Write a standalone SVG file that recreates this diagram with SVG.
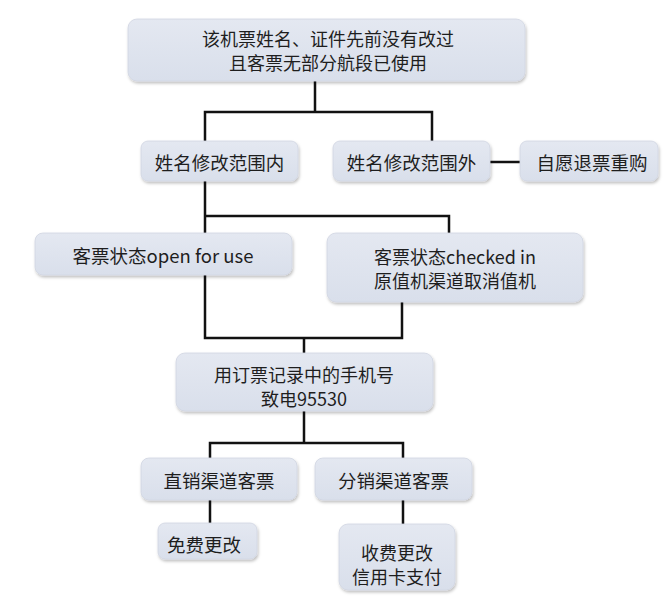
<svg xmlns="http://www.w3.org/2000/svg" width="667" height="615" viewBox="0 0 667 615">
<defs>
<linearGradient id="g" x1="0" y1="0" x2="0" y2="1">
<stop offset="0" stop-color="#e4e8f1"/>
<stop offset="1" stop-color="#d9dfeb"/>
</linearGradient>
<filter id="sh" x="-10%" y="-20%" width="120%" height="150%">
<feDropShadow dx="1" dy="2" stdDeviation="1.5" flood-color="#000" flood-opacity="0.25"/>
</filter>
</defs>
<style>
.box{fill:url(#g);stroke:#d0d6e2;stroke-width:0.8;filter:url(#sh)}
.t{font-family:"Noto Sans CJK SC","Noto Sans",sans-serif;font-size:18.5px;fill:#1e1e1e;text-anchor:middle;dominant-baseline:central}
.m{font-size:18px}
.c{fill:none;stroke:#111;stroke-width:2.5}
</style>
<rect width="667" height="615" fill="#fff"/>
<g id="connectors">
<path class="c" d="M315 81V112M205 142V112H432V142"/>
<path class="c" d="M490 162H520"/>
<path class="c" d="M205 181V233M205 216H449V233"/>
<path class="c" d="M205 275V338H402V302M304 338V353"/>
<path class="c" d="M304 411V443M210 458V443H403V458"/>
<path class="c" d="M210 500V523M403 500V524"/>
</g>
<g id="n1"><rect class="box" x="128" y="19" width="397" height="62" rx="9"/><text class="t m" x="328" y="37.5">该机票姓名、证件先前没有改过</text><text class="t m" x="328" y="61.5">且客票无部分航段已使用</text></g>
<g id="n2"><rect class="box" x="141" y="141" width="157" height="40" rx="7"/><text class="t" x="219.5" y="162">姓名修改范围内</text></g>
<g id="n3"><rect class="box" x="333" y="141" width="157" height="40" rx="7"/><text class="t" x="411.5" y="162">姓名修改范围外</text></g>
<g id="n4"><rect class="box" x="520" y="141" width="138" height="40" rx="7"/><text class="t" x="592" y="162">自愿退票重购</text></g>
<g id="n5"><rect class="box" x="35" y="233" width="257" height="42" rx="8"/><text class="t" x="163" y="255">客票状态open for use</text></g>
<g id="n6"><rect class="box" x="327" y="233" width="256" height="69" rx="9"/><text class="t m" x="455" y="256">客票状态checked in</text><text class="t m" x="455" y="280">原值机渠道取消值机</text></g>
<g id="n7"><rect class="box" x="176" y="353" width="257" height="58" rx="9"/><text class="t m" x="304" y="374">用订票记录中的手机号</text><text class="t m" x="304" y="398">致电95530</text></g>
<g id="n8"><rect class="box" x="141" y="458" width="156" height="42" rx="8"/><text class="t" x="219" y="480">直销渠道客票</text></g>
<g id="n9"><rect class="box" x="315" y="458" width="157" height="42" rx="8"/><text class="t" x="393.5" y="480">分销渠道客票</text></g>
<g id="n10"><rect class="box" x="158" y="523" width="99" height="36" rx="7"/><text class="t" x="204" y="544">免费更改</text></g>
<g id="n11"><rect class="box" x="339" y="524" width="116" height="66" rx="9"/><text class="t m" x="397" y="552">收费更改</text><text class="t m" x="397" y="576">信用卡支付</text></g>
</svg>
